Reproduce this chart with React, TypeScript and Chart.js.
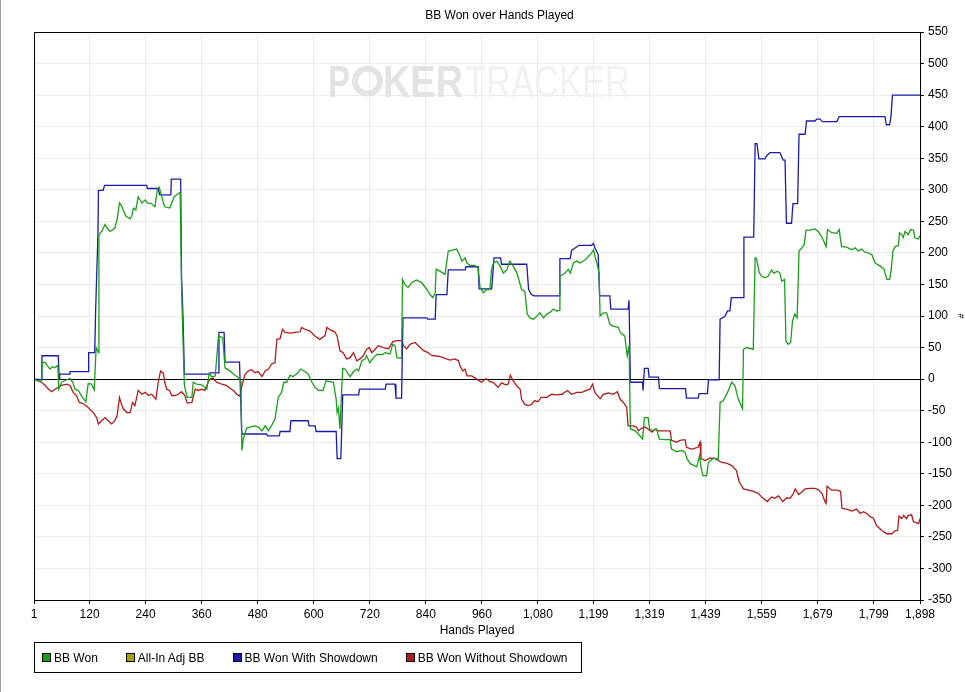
import { useEffect, useRef } from 'react';
import { Chart, registerables, type ChartConfiguration, type Plugin } from 'chart.js';

Chart.register(...registerables);

type Pt = [number, number];

const FONT = '"Liberation Sans", Arial, sans-serif';

const chartTitle = 'BB Won over Hands Played';
const xTitle = 'Hands Played';
const yTitle = '#';

const xTickValues = [1, 120, 240, 360, 480, 600, 720, 840, 960, 1080, 1199, 1319, 1439, 1559, 1679, 1799, 1898];
const yMin = -350;
const yMax = 550;
const yStep = 50;

const seriesNames = ['BB Won', 'All-In Adj BB', 'BB Won With Showdown', 'BB Won Without Showdown'];

// [hand, cumulative BB]
const bbWon: Pt[] = [
  [1, 0], [14, -4], [17, -2], [19, 27], [25, 26], [30, 21], [35, 16], [41, 20], [46, 18], [52, 22], [54, -16], [60, -5],
  [71, -1], [78, 1], [84, -5], [89, -16], [96, -18], [103, -27], [112, -36], [117, -7], [124, -8], [130, -17], [134, 50],
  [139, 42], [140, 229], [146, 234], [153, 245], [158, 239], [164, 234], [174, 239], [179, 253], [184, 279], [189, 274],
  [192, 268], [198, 258], [207, 254], [210, 258], [214, 271], [219, 268], [224, 289], [232, 279], [239, 284], [244, 279],
  [251, 279], [260, 273], [265, 300], [269, 304], [274, 291], [278, 279], [281, 273], [292, 271], [301, 289], [307, 292],
  [314, 296], [317, 142], [321, 37], [323, -10], [329, -29], [339, -29], [342, -5], [349, -8], [360, -9], [371, -16],
  [376, 9], [382, 3], [389, 5], [396, 68], [405, 66], [410, 18], [417, 15], [428, 8], [439, 2], [444, -4], [446, -113],
  [449, -95], [456, -78], [463, -76], [474, -74], [481, -76], [489, -82], [496, -74], [503, -82], [510, -73], [517, -63],
  [524, -29], [531, -21], [536, -5], [542, -5], [549, 6], [556, 4], [563, 8], [572, 16], [581, 12], [588, 8], [596, -5],
  [603, -13], [610, -18], [620, -18], [626, -3], [635, -4], [642, -5], [648, -32], [650, -53], [653, -46], [656, -79],
  [658, -46], [662, 17], [667, 16], [674, 8], [678, 4], [685, 12], [692, 16], [696, 13], [703, 29], [710, 32], [713, 37],
  [720, 26], [728, 34], [735, 39], [746, 39], [753, 42], [763, 40], [769, 55], [774, 53], [778, 34], [788, 33], [790, 158],
  [795, 150], [802, 145], [810, 153], [820, 157], [831, 153], [842, 142], [849, 134], [855, 129], [860, 137], [862, 174],
  [870, 171], [881, 166], [888, 203], [895, 204], [906, 206], [912, 197], [917, 187], [924, 192], [928, 184], [935, 180],
  [945, 180], [952, 176], [956, 145], [963, 137], [970, 142], [977, 142], [981, 176], [985, 184], [992, 187], [999, 179],
  [1006, 168], [1013, 173], [1020, 187], [1027, 179], [1035, 168], [1045, 142], [1052, 139], [1057, 103], [1063, 97],
  [1070, 95], [1077, 99], [1084, 105], [1092, 97], [1099, 103], [1106, 106], [1113, 111], [1120, 108], [1126, 109],
  [1127, 163], [1138, 168], [1145, 174], [1149, 168], [1156, 184], [1163, 187], [1170, 184], [1181, 189], [1188, 194],
  [1195, 200], [1199, 205], [1202, 195], [1206, 184], [1211, 168], [1213, 100], [1220, 105], [1227, 105], [1234, 87],
  [1241, 84], [1252, 82], [1256, 74], [1266, 68], [1271, 37], [1275, 53], [1278, -79], [1288, -82], [1295, -87],
  [1304, -95], [1308, -61], [1316, -61], [1319, -79], [1327, -82], [1334, -79], [1340, -95], [1352, -96], [1363, -96],
  [1366, -111], [1377, -115], [1388, -113], [1395, -116], [1399, -126], [1406, -134], [1420, -139], [1426, -121],
  [1429, -139], [1433, -153], [1441, -153], [1445, -132], [1456, -125], [1466, -127], [1470, -37], [1477, -34],
  [1486, -21], [1495, -5], [1502, -11], [1509, -32], [1518, -47], [1520, 47], [1527, 50], [1541, 47], [1545, 192],
  [1548, 191], [1554, 168], [1559, 163], [1566, 161], [1573, 163], [1580, 173], [1585, 168], [1593, 171], [1598, 168],
  [1602, 155], [1608, 158], [1611, 60], [1616, 55], [1621, 58], [1625, 92], [1630, 103], [1635, 97], [1639, 203],
  [1645, 208], [1650, 213], [1654, 236], [1663, 236], [1673, 238], [1680, 234], [1688, 225], [1697, 210], [1700, 237],
  [1709, 232], [1720, 231], [1725, 237], [1730, 210], [1741, 209], [1752, 205], [1759, 208], [1766, 203], [1773, 206],
  [1780, 201], [1787, 200], [1795, 197], [1802, 184], [1813, 179], [1821, 174], [1827, 158], [1833, 158], [1836, 171],
  [1840, 203], [1845, 210], [1852, 212], [1854, 232], [1859, 229], [1862, 224], [1866, 234], [1873, 229], [1878, 237],
  [1884, 236], [1887, 224], [1894, 222], [1898, 227],
];

// not visible in the picture
const allInAdj: Pt[] = [];

const withShowdown: Pt[] = [
  [1, 0], [17, -1], [18, 37], [53, 37], [55, 1], [56, 8], [76, 8], [78, 12], [117, 12], [118, 42], [131, 42], [133, 110],
  [138, 232], [139, 299], [149, 299], [152, 307], [242, 307], [244, 302], [267, 302], [270, 292], [294, 292], [295, 317],
  [315, 317], [317, 158], [320, 100], [323, 8], [376, 8], [378, 10], [396, 10], [397, 74], [408, 74], [410, 27], [441, 27],
  [446, -87], [499, -87], [501, -90], [526, -90], [528, -83], [549, -83], [551, -66], [588, -66], [590, -74], [603, -74],
  [605, -83], [648, -83], [650, -126], [658, -126], [662, -25], [696, -25], [698, -16], [753, -16], [755, -8], [774, -8],
  [776, -30], [788, -30], [791, 95], [792, 97], [842, 97], [844, 95], [860, 95], [862, 134], [885, 134], [888, 173],
  [924, 173], [926, 178], [952, 178], [954, 143], [981, 143], [986, 192], [1000, 192], [1002, 182], [1056, 182],
  [1060, 142], [1066, 134], [1072, 132], [1126, 132], [1127, 191], [1149, 191], [1152, 204], [1168, 212], [1195, 212],
  [1199, 215], [1202, 208], [1209, 197], [1212, 132], [1234, 132], [1236, 111], [1273, 111], [1275, 125], [1278, -5],
  [1304, -5], [1305, -18], [1308, 17], [1316, 17], [1318, 3], [1338, 3], [1340, -15], [1396, -15], [1398, -30],
  [1423, -30], [1425, -23], [1443, -23], [1445, -1], [1468, -1], [1470, 95], [1480, 99], [1486, 108], [1491, 108],
  [1494, 129], [1520, 129], [1521, 225], [1542, 225], [1545, 373], [1549, 373], [1553, 349], [1566, 349], [1570, 354],
  [1577, 359], [1598, 359], [1605, 347], [1609, 347], [1612, 247], [1623, 247], [1626, 278], [1636, 278], [1639, 388],
  [1652, 388], [1655, 409], [1673, 409], [1677, 412], [1684, 412], [1689, 408], [1720, 408], [1725, 416], [1823, 416],
  [1826, 403], [1833, 403], [1836, 417], [1839, 450], [1898, 450],
];

const withoutShowdown: Pt[] = [
  [1, 0], [17, -5], [25, -10], [32, -16], [39, -20], [46, -16], [53, -13], [60, -10], [71, -8], [78, -10], [85, -21],
  [92, -26], [98, -37], [107, -39], [117, -45], [128, -53], [135, -61], [139, -71], [146, -66], [153, -61], [160, -66],
  [167, -71], [174, -66], [179, -58], [184, -29], [187, -37], [192, -47], [200, -53], [207, -53], [212, -37], [217, -42],
  [224, -18], [232, -24], [239, -21], [246, -26], [253, -24], [262, -32], [267, -5], [272, 13], [278, 9], [281, -5],
  [285, -16], [291, -18], [296, -26], [303, -26], [310, -24], [317, -20], [324, -26], [329, -38], [339, -37], [346, -16],
  [353, -18], [360, -16], [367, -18], [374, -5], [378, 0], [385, 1], [392, -5], [403, -8], [413, -10], [420, -14],
  [428, -18], [435, -24], [442, -27], [447, -8], [453, 8], [460, 13], [467, 15], [474, 10], [481, 12], [489, 4], [496, 13],
  [503, 16], [510, 24], [517, 26], [521, 63], [528, 64], [533, 79], [539, 74], [549, 73], [560, 74], [571, 75], [574, 82],
  [581, 79], [592, 76], [603, 68], [613, 63], [624, 69], [628, 82], [635, 78], [645, 75], [650, 68], [656, 45], [663, 42],
  [670, 32], [678, 34], [685, 42], [692, 29], [699, 32], [706, 37], [713, 47], [719, 50], [724, 42], [731, 47], [738, 53],
  [749, 50], [760, 48], [769, 59], [777, 61], [788, 61], [792, 53], [799, 48], [806, 55], [817, 58], [824, 53], [835, 45],
  [845, 42], [849, 39], [856, 37], [870, 36], [881, 33], [892, 30], [902, 32], [910, 29], [913, 21], [919, 13], [924, 16],
  [928, 5], [938, 5], [949, 0], [959, -5], [969, 1], [977, -4], [984, -5], [995, -13], [1002, -6], [1011, -9], [1016, -8],
  [1021, 6], [1027, -3], [1035, -11], [1042, -16], [1045, -32], [1052, -40], [1059, -42], [1066, -40], [1073, -34],
  [1080, -36], [1087, -29], [1099, -29], [1109, -24], [1120, -25], [1131, -24], [1143, -18], [1152, -24], [1163, -21],
  [1174, -21], [1184, -18], [1191, -16], [1197, -8], [1202, -21], [1213, -31], [1220, -24], [1231, -22], [1241, -24],
  [1250, -20], [1256, -32], [1263, -37], [1270, -45], [1273, -74], [1284, -74], [1291, -76], [1295, -82], [1302, -78],
  [1309, -76], [1316, -79], [1324, -84], [1331, -79], [1338, -82], [1349, -82], [1363, -82], [1366, -97], [1377, -100],
  [1384, -97], [1395, -96], [1398, -108], [1409, -111], [1423, -108], [1427, -100], [1429, -126], [1438, -129],
  [1449, -125], [1459, -126], [1466, -129], [1473, -132], [1484, -133], [1495, -137], [1505, -145], [1511, -163],
  [1520, -174], [1531, -176], [1541, -178], [1552, -181], [1559, -187], [1571, -194], [1580, -187], [1587, -189],
  [1595, -185], [1604, -194], [1613, -188], [1620, -189], [1627, -181], [1631, -174], [1638, -183], [1645, -179],
  [1652, -174], [1663, -173], [1673, -173], [1680, -175], [1688, -181], [1695, -195], [1697, -197], [1699, -170],
  [1709, -176], [1720, -176], [1728, -178], [1731, -205], [1741, -206], [1752, -209], [1762, -206], [1770, -213],
  [1777, -210], [1784, -213], [1791, -218], [1798, -220], [1805, -232], [1816, -240], [1827, -245], [1838, -245],
  [1845, -240], [1850, -240], [1853, -217], [1859, -221], [1863, -216], [1869, -221], [1873, -216], [1880, -215],
  [1884, -226], [1895, -229], [1898, -221],
];

const seriesColors = ['#1a9e1a', '#a8a000', '#1c1cab', '#b01c1c'];
const seriesData = [bbWon, allInAdj, withShowdown, withoutShowdown];

// watermark + black frame round the plot area
const framePlugin: Plugin<'line'> = {
  id: 'frame',
  beforeDatasetsDraw(chart) {
    const { ctx, chartArea: a } = chart;
    const cx = (a.left + a.right) / 2;
    const base = a.top + 65;
    const fit = (text: string, x: number, w: number, font: string, color: string) => {
      ctx.font = font;
      const m = ctx.measureText(text).width;
      ctx.save();
      ctx.translate(x, base);
      ctx.scale(w / m, 1);
      ctx.fillStyle = color;
      ctx.textAlign = 'left';
      ctx.textBaseline = 'alphabetic';
      ctx.fillText(text, 0, 0);
      ctx.restore();
    };
    ctx.save();
    fit('P', cx - 149, 22, `bold 44px ${FONT}`, '#e3e3e3');
    // chip in place of the O
    ctx.beginPath();
    ctx.arc(cx - 109.5, a.top + 49, 12.5, 0, Math.PI * 2);
    ctx.lineWidth = 6;
    ctx.strokeStyle = '#e3e3e3';
    ctx.stroke();
    fit('KER', cx - 94, 80, `bold 44px ${FONT}`, '#e3e3e3');
    fit('TRACKER', cx - 12, 165, `44px ${FONT}`, '#f1f1f1');
    ctx.restore();
  },
  afterDatasetsDraw(chart) {
    const { ctx, chartArea: a } = chart;
    const l = Math.round(a.left) + 0.5;
    const t = Math.round(a.top) + 0.5;
    ctx.save();
    ctx.strokeStyle = '#000';
    ctx.lineWidth = 1;
    ctx.beginPath();
    ctx.moveTo(l, Math.round(a.bottom));
    ctx.lineTo(l, t);
    ctx.lineTo(Math.round(a.right), t);
    ctx.stroke();
    ctx.restore();
  },
};

export default function App() {
  const canvasRef = useRef<HTMLCanvasElement>(null);
  const chartRef = useRef<Chart | null>(null);

  useEffect(() => {
    document.body.style.margin = '0';
    if (!canvasRef.current) return;
    if (chartRef.current) chartRef.current.destroy();

    const config: ChartConfiguration<'line'> = {
      type: 'line',
      data: {
        datasets: seriesNames.map((name, i) => ({
          label: name,
          data: seriesData[i].map(([x, y]) => ({ x, y })),
          borderColor: seriesColors[i],
          backgroundColor: seriesColors[i],
          borderWidth: 1.3,
          pointRadius: 0,
          tension: 0,
          fill: false,
        })),
      },
      options: {
        responsive: false,
        animation: false,
        layout: { padding: { left: 34, right: 0, top: 0, bottom: 52 } },
        plugins: {
          legend: { display: false },
          tooltip: { enabled: false },
          title: {
            display: true,
            text: chartTitle,
            color: '#000',
            font: { family: FONT, size: 12, weight: 'normal', lineHeight: 1.2 },
            padding: { top: 8, bottom: 9.6 },
          },
        },
        scales: {
          x: {
            type: 'linear',
            min: xTickValues[0],
            max: xTickValues[xTickValues.length - 1],
            afterBuildTicks: (scale) => {
              scale.ticks = xTickValues.map((value) => ({ value }));
            },
            afterFit: (scale) => {
              scale.height = 40;
            },
            ticks: {
              autoSkip: false,
              maxRotation: 0,
              padding: 3,
              color: '#000',
              font: { family: FONT, size: 12 },
              callback: (v) => Number(v).toLocaleString('en-US'),
            },
            grid: { color: '#ebebeb', tickColor: '#000', tickLength: 4 },
            border: { display: true, color: '#000' },
            title: {
              display: true,
              text: xTitle,
              color: '#000',
              font: { family: FONT, size: 12, lineHeight: 1.2 },
              padding: { top: 0, bottom: 2 },
            },
          },
          y: {
            type: 'linear',
            position: 'right',
            min: yMin,
            max: yMax,
            afterFit: (scale) => {
              scale.width = 45;
            },
            ticks: {
              stepSize: yStep,
              padding: 4,
              color: '#000',
              font: { family: FONT, size: 12 },
            },
            grid: {
              color: (c) => (c.tick && c.tick.value === 0 ? '#000' : '#ebebeb'),
              tickColor: '#000',
              tickLength: 4,
            },
            border: { display: true, color: '#000' },
            title: {
              display: true,
              text: yTitle,
              color: '#000',
              font: { family: FONT, size: 9, lineHeight: 1 },
              padding: { top: 0, bottom: 0 },
            },
          },
        },
      },
      plugins: [framePlugin],
    };

    chartRef.current = new Chart(canvasRef.current, config);

    return () => {
      if (chartRef.current) {
        chartRef.current.destroy();
        chartRef.current = null;
      }
    };
  }, []);

  return (
    <div style={{ position: 'relative', width: 965, height: 692, background: '#fff', fontFamily: FONT }}>
      <canvas ref={canvasRef} width={965} height={692} style={{ display: 'block' }} />
      <div style={{ position: 'absolute', left: 0, top: 0, width: 1, height: 692, background: '#a0a0a0' }} />
      <div
        style={{
          position: 'absolute',
          left: 34,
          top: 642,
          width: 548,
          height: 31,
          boxSizing: 'border-box',
          border: '1px solid #000',
          display: 'flex',
          alignItems: 'center',
          paddingLeft: 7,
          fontSize: 12,
          color: '#000',
          whiteSpace: 'nowrap',
        }}
      >
        {seriesNames.map((name, i) => (
          <div key={name} style={{ display: 'flex', alignItems: 'center', marginRight: 28 }}>
            <span
              style={{
                display: 'inline-block',
                width: 9,
                height: 9,
                boxSizing: 'border-box',
                border: '1px solid #000',
                background: seriesColors[i],
                marginRight: 3,
              }}
            />
            <span>{name}</span>
          </div>
        ))}
      </div>
    </div>
  );
}
